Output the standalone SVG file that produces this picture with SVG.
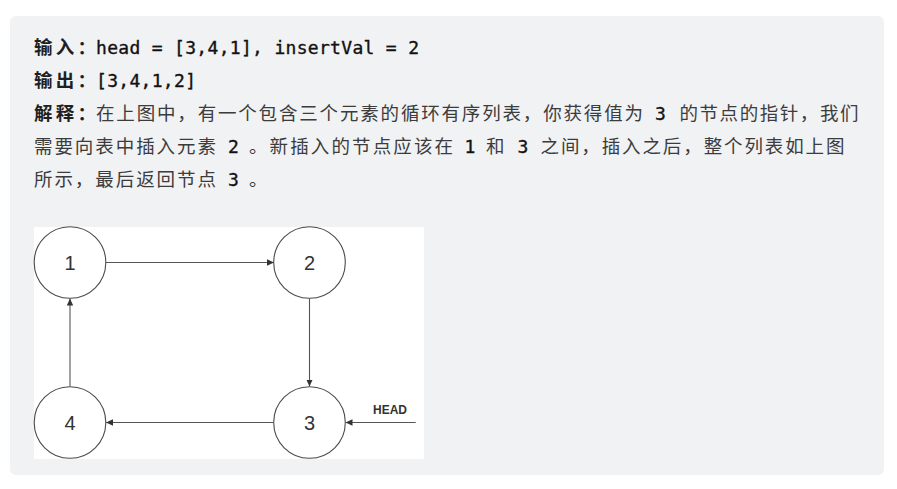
<svg xmlns="http://www.w3.org/2000/svg" width="897" height="489" viewBox="0 0 897 489">
<defs>
<style>
.cjk{font-family:"Noto Sans CJK SC","Noto Sans",sans-serif;font-size:18.5px;fill:#3c3c3c}
.lbl{font-family:"Noto Sans CJK SC","Noto Sans",sans-serif;font-size:18.5px;font-weight:bold;fill:#1f1f1f}
.code{font-family:"DejaVu Sans Mono","Liberation Mono",monospace;font-size:18px;fill:#111111;stroke:#111111;stroke-width:0.35}
.node circle{fill:#ffffff;stroke:#4a4a4a;stroke-width:1.1}
.node text{font-family:"Liberation Sans",Arial,sans-serif;font-size:20px;fill:#333333;text-anchor:middle}
.edge{stroke:#555555;stroke-width:1.1;fill:none;marker-end:url(#ah)}
</style>
<marker id="ah" markerUnits="userSpaceOnUse" markerWidth="8" markerHeight="8" refX="7" refY="4" orient="auto">
<path d="M0,0.8 L7,4 L0,7.2 Z" fill="#333333"/>
</marker>
</defs>
<rect x="10" y="16" width="874" height="459" rx="6" fill="#f1f2f4"/>
<g id="text">
<text y="54"><tspan class="lbl" x="34" textLength="62" lengthAdjust="spacing">输入：</tspan><tspan class="code" x="96" textLength="323" lengthAdjust="spacing">head = [3,4,1], insertVal = 2</tspan></text>
<text y="87"><tspan class="lbl" x="34" textLength="62" lengthAdjust="spacing">输出：</tspan><tspan class="code" x="96" textLength="100" lengthAdjust="spacing">[3,4,1,2]</tspan></text>
<text y="120"><tspan class="lbl" x="34" textLength="62" lengthAdjust="spacing">解释：</tspan><tspan class="cjk" x="96" textLength="547" lengthAdjust="spacing">在上图中，有一个包含三个元素的循环有序列表，你获得值为</tspan></text>
<text class="code" x="660.5" y="120" text-anchor="middle">3</text>
<text class="cjk" x="679.5" y="120" textLength="179" lengthAdjust="spacing">的节点的指针，我们</text>
<text class="cjk" x="34" y="153" textLength="182" lengthAdjust="spacing">需要向表中插入元素</text>
<text class="code" x="233.3" y="153" text-anchor="middle">2</text>
<text class="cjk" x="249" y="153" textLength="204" lengthAdjust="spacing">。新插入的节点应该在</text>
<text class="code" x="470" y="153" text-anchor="middle">1</text>
<text class="cjk" x="486" y="153">和</text>
<text class="code" x="523" y="153" text-anchor="middle">3</text>
<text class="cjk" x="540.5" y="153" textLength="304" lengthAdjust="spacing">之间，插入之后，整个列表如上图</text>
<text class="cjk" x="34" y="186" textLength="182" lengthAdjust="spacing">所示，最后返回节点</text>
<text class="code" x="233.5" y="186" text-anchor="middle">3</text>
<text class="cjk" x="249" y="186">。</text>
</g>
<rect x="34" y="227" width="390" height="232" fill="#ffffff"/>
<g id="connectors">
<line class="edge" x1="106" y1="262.5" x2="274" y2="262.5"/>
<line class="edge" x1="309.5" y1="298.5" x2="309.5" y2="386.5"/>
<line class="edge" x1="273.5" y1="422.5" x2="106" y2="422.5"/>
<line class="edge" x1="70" y1="386.5" x2="70" y2="298.5"/>
<line class="edge" x1="415.7" y1="422.5" x2="345.5" y2="422.5"/>
</g>
<g id="node1" class="node"><circle cx="70" cy="262.5" r="35.8"/><text x="70" y="269.5">1</text></g>
<g id="node2" class="node"><circle cx="309.5" cy="262.5" r="35.8"/><text x="309.5" y="269.5">2</text></g>
<g id="node3" class="node"><circle cx="309.5" cy="422.5" r="35.8"/><text x="309.5" y="429.5">3</text></g>
<g id="node4" class="node"><circle cx="70" cy="422.5" r="35.8"/><text x="70" y="429.5">4</text></g>
<g id="head-label"><text x="373" y="413.5" font-family="Liberation Sans, Arial, sans-serif" font-size="12" font-weight="bold" fill="#333333">HEAD</text></g>
</svg>
